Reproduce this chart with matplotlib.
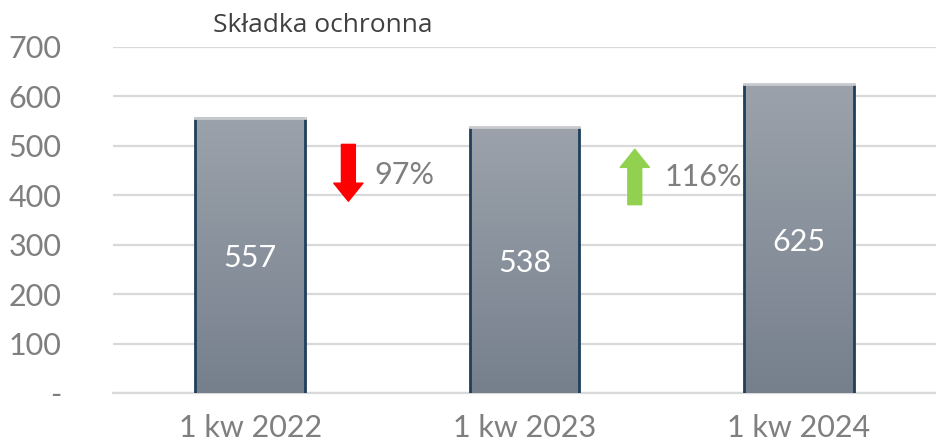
import matplotlib
matplotlib.use("Agg")
import matplotlib.pyplot as plt
import numpy as np
from matplotlib.colors import LinearSegmentedColormap

# dane
kwartaly = ["1 kw 2022", "1 kw 2023", "1 kw 2024"]
skladka = [557, 538, 625]
zmiany = ["97%", "116%"]
kierunki = ["down", "up"]

plt.rcParams['font.family'] = ['Lato', 'DejaVu Sans']

fig = plt.figure(figsize=(9.36, 4.46), dpi=100)
ax = fig.add_axes([113 / 936, 53 / 446, 1 - 113 / 936, 346 / 446])

x = np.arange(len(kwartaly))
szer = 0.4
bars = ax.bar(x, skladka, width=szer, color="none", edgecolor="none", zorder=3)

# gradient w slupkach
cmap = LinearSegmentedColormap.from_list("g", ["#76808d", "#9ba2ab"])
grad = np.linspace(0, 1, 256).reshape(-1, 1)
for b in bars:
    x0, w, h = b.get_x(), b.get_width(), b.get_height()
    ax.imshow(grad, extent=[x0, x0 + w, 0, h], origin="lower", cmap=cmap,
              aspect="auto", zorder=3)
    ax.plot([x0, x0], [0, h], color="#1f3f5a", lw=2, zorder=4, solid_capstyle="butt")
    ax.plot([x0 + w, x0 + w], [0, h], color="#1f3f5a", lw=2, zorder=4, solid_capstyle="butt")
    ax.plot([x0, x0 + w], [h, h], color="#c8cacd", lw=2, zorder=4)
    ax.text(b.get_x() + w / 2, h * 0.49, f"{h:.0f}", ha="center", va="center",
            color="white", fontsize=22, zorder=5)

# strzalki ze zmiana
poz_strzalek = [0.358, 1.402]
poz_opisow = [(0.453, 441), (1.511, 436)]
for i, (lab, kier) in enumerate(zip(zmiany, kierunki)):
    xa = poz_strzalek[i]
    if kier == "down":
        kolor, start, koniec = "#ff0000", 503, 388
    else:
        kolor, start, koniec = "#92d050", 381, 493
    ax.annotate("", xy=(xa, koniec), xytext=(xa, start),
                arrowprops=dict(arrowstyle="simple,head_length=0.65,head_width=1.05,tail_width=0.5",
                                color=kolor, mutation_scale=20, shrinkA=0, shrinkB=0),
                zorder=5)
    ax.text(poz_opisow[i][0], poz_opisow[i][1], lab, ha="left", va="center",
            color="#7f7f7f", fontsize=22)

ax.set_xlim(-0.5, 2.5)
ax.set_ylim(0, 700)
ax.set_yticks(range(0, 701, 100))
ax.set_yticklabels(["-"] + [str(v) for v in range(100, 701, 100)])
ax.set_xticks(x)
ax.set_xticklabels(kwartaly)
ax.tick_params(axis="y", length=0, pad=37, labelsize=22, labelcolor="#7f7f7f")
ax.tick_params(axis="x", length=0, pad=15, labelsize=22, labelcolor="#7f7f7f")
ax.grid(axis="y", color="#d9d9d9", lw=1.6, zorder=0)
ax.set_axisbelow(True)
for s in ["top", "right", "left"]:
    ax.spines[s].set_visible(False)
ax.spines["bottom"].set_color("#d9d9d9")
ax.spines["bottom"].set_linewidth(1.6)

fig.text(213 / 936, 1 - 25 / 446, "Składka ochronna", ha="left", va="center",
         fontsize=19, color="#404040", family=["Open Sans", "DejaVu Sans"])

fig.savefig("out.png", dpi=100)
